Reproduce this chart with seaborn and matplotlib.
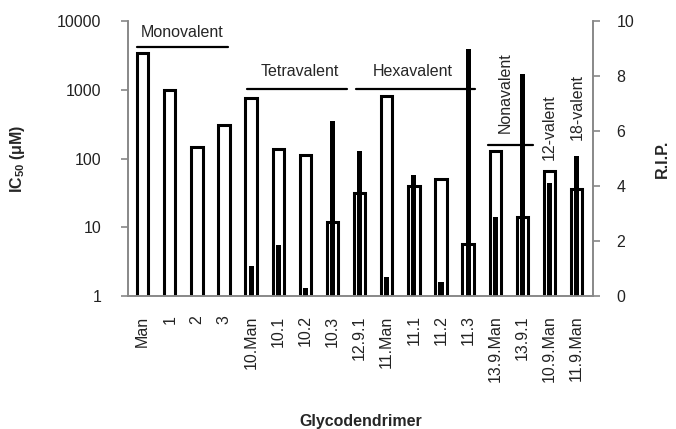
import numpy as np
import pandas as pd
import matplotlib
matplotlib.use("Agg")
import matplotlib.pyplot as plt
import seaborn as sns

# data
compounds = ["Man", "1", "2", "3", "10.Man", "10.1", "10.2", "10.3", "12.9.1",
             "11.Man", "11.1", "11.2", "11.3", "13.9.Man", "13.9.1", "10.9.Man", "11.9.Man"]
ic50 = [3400, 1000, 145, 308, 767, 137, 112, 12, 32,
        812, 40, 51, 5.7, 129, 14, 66, 36]
rip = [0, 0, 0, 0, 1.09, 1.85, 0.28, 6.37, 5.27,
       0.70, 4.4, 0.5, 8.98, 2.87, 8.07, 4.12, 5.09]

# valency groups
groups = ["Monovalent", "Tetravalent", "Hexavalent"]
group_start = [-0.2, 3.85, 7.85]
group_end = [3.15, 7.55, 12.25]

df = pd.DataFrame({"compound": compounds, "ic50": ic50, "rip": rip})

sns.set_style("white")
plt.rcParams["font.family"] = ["Liberation Sans", "DejaVu Sans"]
plt.rcParams["mathtext.fontset"] = "custom"
plt.rcParams["mathtext.rm"] = "Liberation Sans"
plt.rcParams["mathtext.bf"] = "Liberation Sans:bold"
fs = 11.5

fig = plt.figure(figsize=(6.76, 4.29), dpi=100)
ax = fig.add_axes([0.189, 0.310, 0.688, 0.641])

sns.barplot(data=df, x="compound", y="ic50", ax=ax, color="white",
            edgecolor="black", linewidth=2.2, width=0.42, saturation=1)
ax.set_yscale("log")
ax.set_ylim(1, 10000)

ax2 = ax.twinx()
sns.barplot(data=df, x="compound", y="rip", ax=ax2, color="black",
            width=0.19, saturation=1, linewidth=0)
ax2.set_ylim(0, 10)
ax2.set_yticks([0, 2, 4, 6, 8, 10])

for a in (ax, ax2):
    a.set_xlim(-0.55, 16.6)
    for s in a.spines.values():
        s.set_color("#888888")
        s.set_linewidth(1.2)
    a.spines["top"].set_visible(False)

ax.set_yticks([1, 10, 100, 1000, 10000])
ax.set_yticklabels(["1", "10", "100", "1000", "10000"])
ax.minorticks_off()
ax.set_xticks(range(len(compounds)))
ax.set_xticklabels(compounds, rotation=90, fontsize=fs, color="#222222")
ax.set_xticks(np.arange(-0.5, 17, 1), minor=True)
ax.tick_params(axis="x", which="major", length=0, pad=14)
ax.tick_params(axis="x", which="minor", length=5, width=1.2, color="#888888", direction="out")
ax.tick_params(axis="y", length=5, width=1.2, color="#888888", direction="out",
               labelsize=fs, labelcolor="#222222", left=True, pad=14)
ax2.tick_params(axis="y", length=5, width=1.2, color="#888888", direction="out",
                labelsize=fs, labelcolor="#222222", right=True, pad=12)

ax.set_xlabel("Glycodendrimer", fontsize=fs, fontweight="bold")
ax.xaxis.set_label_coords(0.5, -0.455)
ax.xaxis.label.set_va("center")
ax.set_ylabel(r"IC$_{\mathbf{50}}$ ($\mathbf{\mu}$M)", fontsize=fs, fontweight="bold")
ax.yaxis.set_label_coords(-0.237, 0.5)
ax.yaxis.label.set_va("center")
ax2.set_ylabel("R.I.P.", fontsize=fs, fontweight="bold")
ax2.yaxis.set_label_coords(1.15, 0.5)
ax2.yaxis.label.set_va("center")

# group annotations
lw = 1.6
ax.plot([group_start[0], group_end[0]], [4230, 4230], color="black", lw=lw, clip_on=False)
ax.text(1.45, 6900, groups[0], ha="center", va="center", fontsize=fs)
ax.plot([group_start[1], group_end[1]], [1015, 1015], color="black", lw=lw, clip_on=False)
ax.text(5.8, 1820, groups[1], ha="center", va="center", fontsize=fs)
ax.plot([group_start[2], group_end[2]], [1015, 1015], color="black", lw=lw, clip_on=False)
ax.text(9.95, 1820, groups[2], ha="center", va="center", fontsize=fs)
ax.plot([12.74, 14.4], [157, 157], color="black", lw=lw, clip_on=False)
ax.text(13.37, 894, "Nonavalent", ha="center", va="center", rotation=90, fontsize=fs)
ax.text(15.0, 287, "12-valent", ha="center", va="center", rotation=90, fontsize=fs)
ax.text(16.03, 562, "18-valent", ha="center", va="center", rotation=90, fontsize=fs)

# left axis (white bars) behind the R.I.P. bars
ax.set_zorder(ax2.get_zorder() - 1)
ax2.patch.set_visible(False)

fig.savefig("out.png", dpi=100)
